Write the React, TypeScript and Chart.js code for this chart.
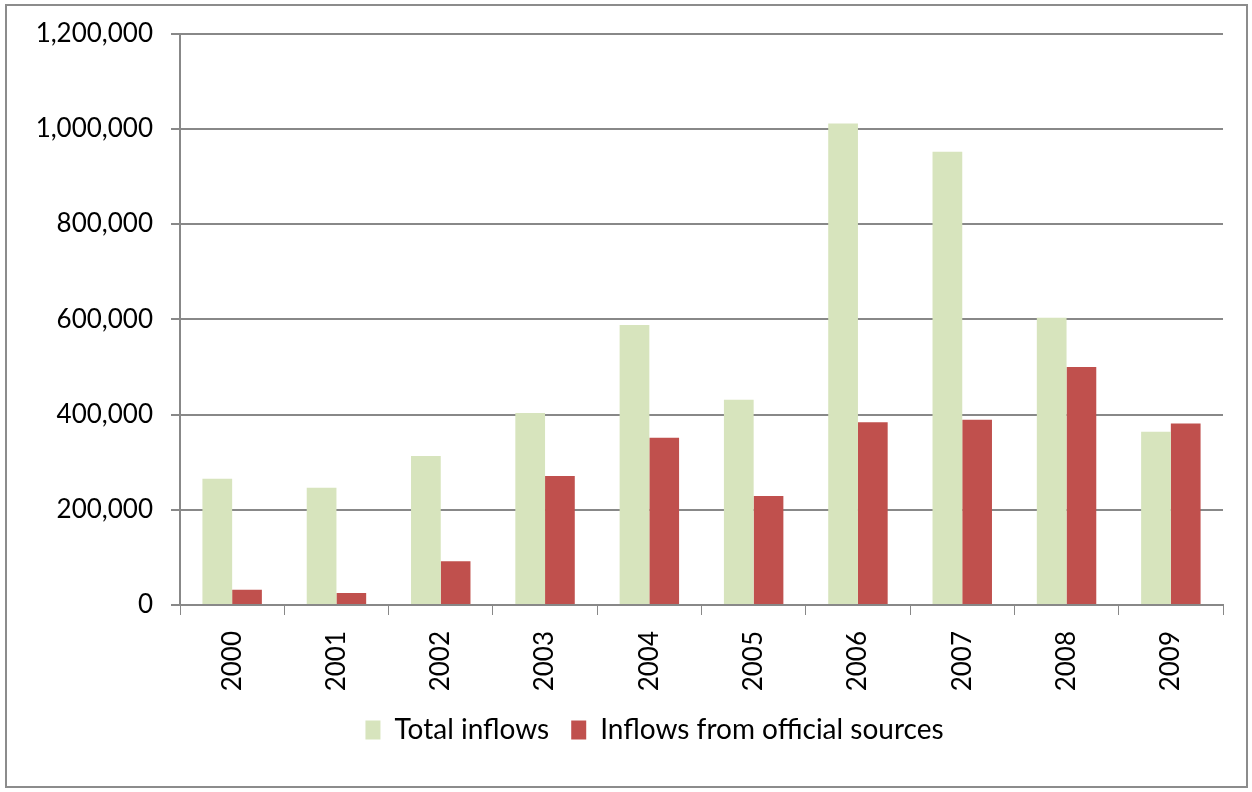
import React, { useRef, useEffect } from 'react';
import Chart from 'chart.js/auto';

const years = ['2000', '2001', '2002', '2003', '2004', '2005', '2006', '2007', '2008', '2009'];
const totalInflows = [265000, 246000, 313000, 403000, 588000, 431000, 1011000, 952000, 603000, 364000];
const officialInflows = [32000, 25000, 92000, 271000, 351000, 229000, 384000, 389000, 500000, 381000];
const seriesNames = ['Total inflows', 'Inflows from official sources'];

const FONT = 'Lato, "Liberation Sans", sans-serif';

const App: React.FC = () => {
  const canvasRef = useRef<HTMLCanvasElement>(null);
  const chartRef = useRef<Chart | null>(null);

  useEffect(() => {
    document.body.style.margin = '0';
    if (!canvasRef.current) return;
    if (chartRef.current) chartRef.current.destroy();
    const ctx = canvasRef.current.getContext('2d');
    if (!ctx) return;

    // outer frame round the whole chart
    const framePlugin = {
      id: 'frame',
      beforeDraw(chart: any) {
        const c = chart.ctx;
        c.save();
        c.fillStyle = '#fff';
        c.fillRect(0, 0, chart.width, chart.height);
        c.strokeStyle = '#8c8c8c';
        c.lineWidth = 2;
        c.strokeRect(6, 5, 1241, 782);
        c.restore();
      }
    };

    // legend sits a bit right of the canvas centre, as in the original
    const legendShift = {
      id: 'legendShift',
      afterLayout(chart: any) {
        const lg = chart.legend;
        if (!lg) return;
        lg.left += 43;
        lg.right += 43;
      }
    };

    chartRef.current = new Chart(ctx, {
      type: 'bar',
      data: {
        labels: years,
        datasets: [
          {
            label: seriesNames[0],
            data: totalInflows,
            backgroundColor: '#D7E4BD',
            borderWidth: 0
          },
          {
            label: seriesNames[1],
            data: officialInflows,
            backgroundColor: '#C0504D',
            borderWidth: 0
          }
        ]
      },
      options: {
        responsive: false,
        animation: false,
        layout: { padding: { top: 23, right: 29, bottom: 38, left: 0 } },
        datasets: { bar: { categoryPercentage: 0.57, barPercentage: 1 } },
        scales: {
          x: {
            grid: {
              display: true,
              drawOnChartArea: false,
              drawTicks: true,
              tickLength: 10,
              color: '#888',
              offset: true
            },
            border: { color: '#888', width: 2 },
            ticks: {
              color: '#000',
              font: { family: FONT, size: 26 },
              minRotation: 90,
              maxRotation: 90,
              padding: 16
            },
            afterFit(scale: any) {
              scale.height = 89;
            }
          },
          y: {
            min: 0,
            max: 1200000,
            grid: { color: '#888', lineWidth: 2, tickLength: 9 },
            border: { color: '#888', width: 2 },
            ticks: {
              stepSize: 200000,
              color: '#000',
              font: { family: FONT, size: 26 },
              padding: 18,
              callback: (v: any) => Number(v).toLocaleString('en-US')
            },
            afterFit(scale: any) {
              scale.width = 180;
            }
          }
        },
        plugins: {
          legend: {
            position: 'bottom',
            labels: {
              color: '#000',
              font: { family: FONT, size: 28 },
              boxWidth: 15,
              boxHeight: 19,
              padding: 22
            }
          },
          tooltip: { enabled: false }
        }
      },
      plugins: [framePlugin, legendShift]
    });

    return () => {
      if (chartRef.current) {
        chartRef.current.destroy();
        chartRef.current = null;
      }
    };
  }, []);

  return (
    <div style={{ position: 'fixed', left: 0, top: 0, width: '1252px', height: '792px' }}>
      <canvas ref={canvasRef} width={1252} height={792} style={{ width: '1252px', height: '792px' }}></canvas>
    </div>
  );
};

export default App;
